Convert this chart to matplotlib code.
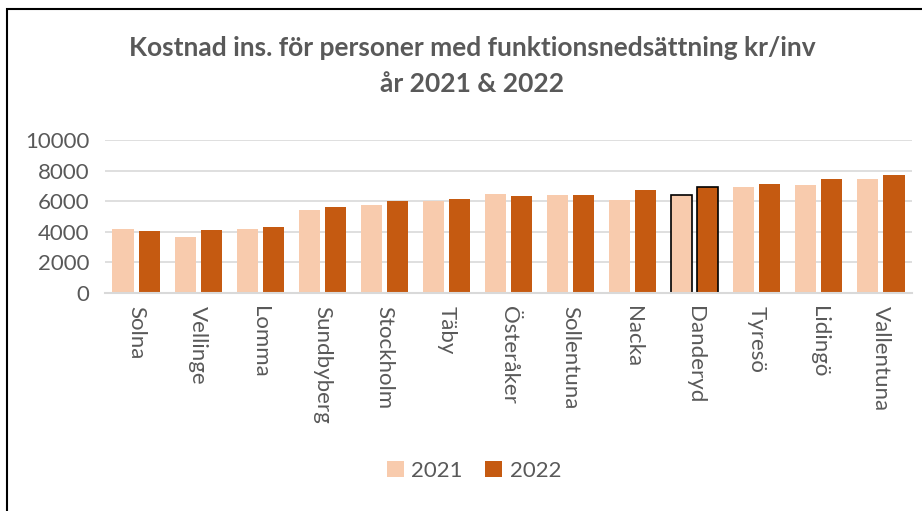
import numpy as np
import matplotlib.pyplot as plt
from matplotlib.patches import Rectangle

kommuner = ['Solna', 'Vellinge', 'Lomma', 'Sundbyberg', 'Stockholm', 'Täby', 'Österåker',
            'Sollentuna', 'Nacka', 'Danderyd', 'Tyresö', 'Lidingö', 'Vallentuna']
v2021 = [4170, 3650, 4170, 5430, 5780, 6040, 6500, 6430, 6110, 6390, 6960, 7090, 7420]
v2022 = [4040, 4100, 4300, 5630, 6040, 6170, 6370, 6430, 6760, 6960, 7150, 7420, 7680]
highlight = 'Danderyd'

c21 = '#F8CBAD'
c22 = '#C55A11'
grey = '#595959'

plt.rcParams['font.family'] = ['Lato', 'DejaVu Sans']

fig = plt.figure(figsize=(9.22, 5.11), dpi=100)
ax = fig.add_axes([105/922, 1 - 293/511, 807/922, 153/511])

x = np.arange(len(kommuner))
w = 0.34
off = 0.21
edges = ['black' if k == highlight else 'none' for k in kommuner]
ax.bar(x - off, v2021, w, color=c21, edgecolor=edges, linewidth=1.2, label='2021', zorder=3)
ax.bar(x + off, v2022, w, color=c22, edgecolor=edges, linewidth=1.2, label='2022', zorder=3)

ax.set_xlim(-0.5, len(kommuner) - 0.5)
ax.set_ylim(0, 10000)
ax.set_yticks(range(0, 10001, 2000))
ax.grid(axis='y', color='#D9D9D9', linewidth=1.2, zorder=0)
for s in ['top', 'right', 'left']:
    ax.spines[s].set_visible(False)
ax.spines['bottom'].set_color('#D9D9D9')
ax.spines['bottom'].set_linewidth(1.5)
ax.spines['bottom'].set_zorder(4)
ax.tick_params(axis='both', length=0, labelsize=16, colors=grey)
ax.tick_params(axis='y', pad=11)
ax.set_xticks(x)
ax.set_xticklabels(kommuner, rotation=-90, ha='center', va='top')
ax.tick_params(axis='x', pad=9)

fig.text(0.512, 1 - 48/511, 'Kostnad ins. för personer med funktionsnedsättning kr/inv',
         ha='center', va='center', fontsize=19, fontweight='bold', color=grey)
fig.text(0.512, 1 - 84/511, 'år 2021 & 2022',
         ha='center', va='center', fontsize=19, fontweight='bold', color=grey)

fig.legend(loc='center', bbox_to_anchor=(474/922, 1 - 471/511), ncol=2, frameon=False,
           fontsize=16, labelcolor=grey, handlelength=0.75, handleheight=0.75,
           columnspacing=1.0, handletextpad=0.35)

fig.patches.append(Rectangle((7/922, -0.05), 1.1, 1 - 9/511 + 0.05, transform=fig.transFigure,
                             fill=False, edgecolor='black', linewidth=1.5, clip_on=False))

fig.savefig('out.png', dpi=100)
